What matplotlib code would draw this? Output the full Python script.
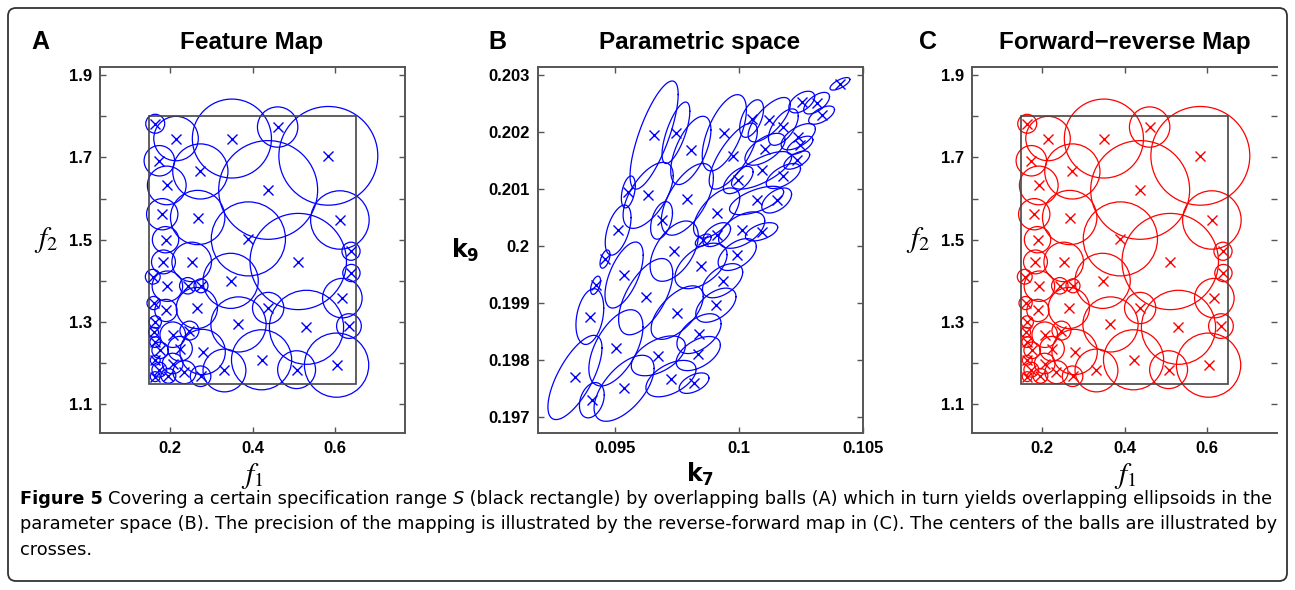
import numpy as np
import matplotlib
matplotlib.use("Agg")
import matplotlib.pyplot as plt
from matplotlib.patches import Circle, Rectangle, FancyBboxPatch

plt.rcParams['font.family'] = ['Liberation Sans', 'DejaVu Sans']

# ---- Panel A / C: balls in feature space (centre f1, f2, radius) ----
f1 = [0.164, 0.2145, 0.350, 0.461, 0.584, 0.174, 0.2735, 0.438, 0.192, 0.181,
      0.267, 0.390, 0.612, 0.189, 0.511, 0.639, 0.184, 0.2525, 0.640, 0.158,
      0.347, 0.1935, 0.243, 0.275, 0.618, 0.160, 0.190, 0.265, 0.438, 0.366,
      0.531, 0.634, 0.164, 0.2065, 0.247, 0.160, 0.279, 0.164, 0.224, 0.176,
      0.332, 0.422, 0.507, 0.604, 0.164, 0.2065, 0.235, 0.274, 0.174, 0.196,
      0.164]
f2 = [1.782, 1.746, 1.746, 1.774, 1.704, 1.692, 1.666, 1.621, 1.632, 1.562,
      1.554, 1.502, 1.548, 1.500, 1.447, 1.472, 1.446, 1.446, 1.419, 1.410,
      1.400, 1.387, 1.388, 1.388, 1.358, 1.346, 1.328, 1.334, 1.334, 1.294,
      1.287, 1.290, 1.300, 1.269, 1.279, 1.275, 1.227, 1.251, 1.235, 1.231,
      1.182, 1.208, 1.184, 1.195, 1.207, 1.199, 1.178, 1.168, 1.184, 1.169,
      1.167]
radius = [0.023, 0.054, 0.096, 0.049, 0.120, 0.037, 0.067, 0.120, 0.047, 0.038,
          0.066, 0.090, 0.071, 0.032, 0.117, 0.022, 0.029, 0.048, 0.021, 0.018,
          0.067, 0.037, 0.020, 0.017, 0.048, 0.016, 0.027, 0.050, 0.038, 0.067,
          0.090, 0.030, 0.015, 0.031, 0.023, 0.012, 0.055, 0.013, 0.030, 0.020,
          0.052, 0.073, 0.046, 0.078, 0.012, 0.025, 0.028, 0.025, 0.018, 0.018,
          0.012]
spec_f1 = (0.15, 0.65)
spec_f2 = (1.15, 1.80)

# ---- Panel B: ellipsoids in parameter space ----
k7 = [0.09658, 0.09746, 0.09806, 0.09941, 0.09977, 0.10051, 0.10122, 0.10179,
      0.10253, 0.10313, 0.10333, 0.10407, 0.10239, 0.10105, 0.10091, 0.10179,
      0.10233, 0.10246, 0.09997, 0.09634, 0.09792, 0.10071, 0.10152, 0.09554,
      0.09910, 0.09688, 0.10011, 0.10091, 0.09513, 0.09739, 0.09910, 0.09856,
      0.09993, 0.09460, 0.09537, 0.09847, 0.09422, 0.09934, 0.09624, 0.09751,
      0.09907, 0.09399, 0.09839, 0.09504, 0.09675, 0.09836, 0.09339, 0.09726,
      0.09537, 0.09819, 0.09407]
k9 = [0.20195, 0.20199, 0.20168, 0.20199, 0.20158, 0.20224, 0.20222, 0.20209,
      0.20253, 0.20251, 0.20230, 0.20285, 0.20192, 0.20170, 0.20133, 0.20123,
      0.20151, 0.20177, 0.20116, 0.20089, 0.20082, 0.20080, 0.20080, 0.20095,
      0.20058, 0.20045, 0.20028, 0.20025, 0.20028, 0.19991, 0.20020, 0.20010,
      0.19985, 0.19977, 0.19949, 0.19965, 0.19931, 0.19939, 0.19911, 0.19883,
      0.19896, 0.19876, 0.19846, 0.19821, 0.19807, 0.19811, 0.19769, 0.19767,
      0.19750, 0.19759, 0.19729]
half_k7 = [0.00097, 0.00056, 0.00081, 0.00089, 0.00097, 0.00048, 0.00085, 0.00060,
           0.00052, 0.00052, 0.00052, 0.00040, 0.00069, 0.00081, 0.00121, 0.00069,
           0.00052, 0.00052, 0.00060, 0.00101, 0.00105, 0.00109, 0.00060, 0.00028,
           0.00093, 0.00044, 0.00093, 0.00065, 0.00052, 0.00097, 0.00056, 0.00032,
           0.00077, 0.00020, 0.00077, 0.00105, 0.00020, 0.00081, 0.00109, 0.00105,
           0.00081, 0.00056, 0.00089, 0.00109, 0.00109, 0.00089, 0.00109, 0.00101,
           0.00121, 0.00060, 0.00050]
half_k9 = [0.00095, 0.00054, 0.00060, 0.00067, 0.00058, 0.00033, 0.00039, 0.00032,
           0.00019, 0.00019, 0.00016, 0.00011, 0.00023, 0.00028, 0.00033, 0.00022,
           0.00016, 0.00016, 0.00024, 0.00058, 0.00063, 0.00025, 0.00022, 0.00028,
           0.00044, 0.00033, 0.00032, 0.00016, 0.00044, 0.00053, 0.00021, 0.00011,
           0.00028, 0.00016, 0.00058, 0.00040, 0.00016, 0.00030, 0.00067, 0.00047,
           0.00030, 0.00049, 0.00035, 0.00067, 0.00035, 0.00030, 0.00074, 0.00032,
           0.00058, 0.00018, 0.00031]
corr = [0.75, 0.7, 0.6, 0.6, 0.75, 0.5, 0.7, 0.6, 0.5, 0.6, 0.6, 0.7, 0.6, 0.6,
        0.7, 0.6, 0.6, 0.6, 0.6, 0.6, 0.6, 0.6, 0.5, 0.4, 0.6, 0.4, 0.5, 0.5,
        0.5, 0.5, 0.5, 0.5, 0.5, 0.5, 0.6, 0.5, 0.5, 0.5, 0.6, 0.6, 0.5, 0.3,
        0.5, 0.55, 0.5, 0.5, 0.7, 0.5, 0.6, 0.5, 0.3]

caption1 = ("Covering a certain specification range ", "S",
            " (black rectangle) by overlapping balls (A) which in turn yields "
            "overlapping ellipsoids in the")
caption2 = ("parameter space (B). The precision of the mapping is illustrated by the "
            "reverse-forward map in (C). The centers of the balls are illustrated by")
caption3 = "crosses."

W, H = 1295, 590
fig = plt.figure(figsize=(W / 100, H / 100), dpi=100)


def px(x0, y0, x1, y1):
    return [x0 / W, 1 - y1 / H, (x1 - x0) / W, (y1 - y0) / H]


def style(ax):
    for s in ax.spines.values():
        s.set_color('#555555')
        s.set_linewidth(1.4)
    ax.tick_params(direction='in', length=4, width=1, color='#555555',
                   top=True, right=True, labelsize=12, pad=6)
    for lab in ax.get_xticklabels() + ax.get_yticklabels():
        lab.set_fontweight('bold')


def ball_panel(ax, color):
    for x, y, r in zip(f1, f2, radius):
        ax.add_patch(Circle((x, y), r, fill=False, ec=color, lw=0.9))
    ax.plot(f1, f2, 'x', color=color, ms=7, mew=1)
    ax.add_patch(Rectangle((spec_f1[0], spec_f2[0]), spec_f1[1] - spec_f1[0],
                           spec_f2[1] - spec_f2[0], fill=False, ec='#444444', lw=1.2))
    ax.set_xlim(0.03, 0.77)
    ax.set_ylim(1.03, 1.92)
    ax.set_xticks([0.2, 0.4, 0.6])
    ax.set_yticks(np.arange(1.1, 1.95, 0.1))
    ax.set_yticklabels(['1.1', '', '1.3', '', '1.5', '', '1.7', '', '1.9'])
    style(ax)


axA = fig.add_axes(px(100, 67, 405, 433))
ball_panel(axA, 'blue')

axC = fig.add_axes(px(972, 67, 1277, 433))
ball_panel(axC, 'red')
axC.spines['right'].set_visible(False)

axB = fig.add_axes(px(538, 67, 863, 433))
t = np.linspace(0, 2 * np.pi, 120)
for cx, cy, a, b, r in zip(k7, k9, half_k7, half_k9, corr):
    axB.plot(cx + a * np.cos(t), cy + b * (r * np.cos(t) + np.sqrt(1 - r * r) * np.sin(t)),
             color='blue', lw=0.9)
axB.plot(k7, k9, 'x', color='blue', ms=7, mew=1)
axB.set_xlim(0.0919, 0.10495)
axB.set_ylim(0.196714, 0.203146)
axB.set_xticks([0.095, 0.1, 0.105])
axB.set_xticklabels(['0.095', '0.1', '0.105'])
axB.set_yticks([0.197, 0.198, 0.199, 0.2, 0.201, 0.202, 0.203])
axB.set_yticklabels(['0.197', '0.198', '0.199', '0.2', '0.201', '0.202', '0.203'])
style(axB)

# panel letters and titles
for x, letter in [(40, 'A'), (497, 'B'), (928, 'C')]:
    fig.text(x / W, 1 - 42 / H, letter, fontsize=18, fontweight='bold', ha='center', va='center')
for x, title in [(252, 'Feature Map'), (700, 'Parametric space'), (1125, 'Forward\u2212reverse Map')]:
    fig.text(x / W, 1 - 43 / H, title, fontsize=17.5, fontweight='bold', ha='center', va='center')

# axis labels
for x in (252, 1125):
    fig.text(x / W, 1 - 476 / H, r'$f_1$', fontsize=21, ha='center', va='center', math_fontfamily='stix')
for x in (46, 918):
    fig.text(x / W, 1 - 240 / H, r'$f_2$', fontsize=21, ha='center', va='center', math_fontfamily='stix')
fig.text(700 / W, 1 - 474 / H, r'$\mathbf{k}_\mathbf{7}$', fontsize=17, ha='center', va='center',
         math_fontfamily='dejavusans')
fig.text(465 / W, 1 - 250 / H, r'$\mathbf{k}_\mathbf{9}$', fontsize=17, ha='center', va='center',
         math_fontfamily='dejavusans')

# caption and frame
over = fig.add_axes([0, 0, 1, 1])
over.set_xlim(0, W)
over.set_ylim(H, 0)
over.axis('off')
over.add_patch(FancyBboxPatch((8, 8), 1279, 573, boxstyle='round,pad=0,rounding_size=8',
                              fill=False, ec='#333333', lw=1.3))
cap = dict(fontsize=12.8, family='DejaVu Sans', va='center')
t1 = over.text(20, 499, 'Figure 5', fontweight='bold', **cap)
t2 = over.annotate(caption1[0], xy=(1, 0.5), xycoords=t1, xytext=(4, 0),
                   textcoords='offset points', **cap)
t3 = over.annotate(caption1[1], xy=(1, 0.5), xycoords=t2, style='italic', **cap)
over.annotate(caption1[2], xy=(1, 0.5), xycoords=t3, **cap)
over.text(20, 524, caption2, **cap)
over.text(20, 550, caption3, **cap)

fig.savefig('out.png', dpi=100)
